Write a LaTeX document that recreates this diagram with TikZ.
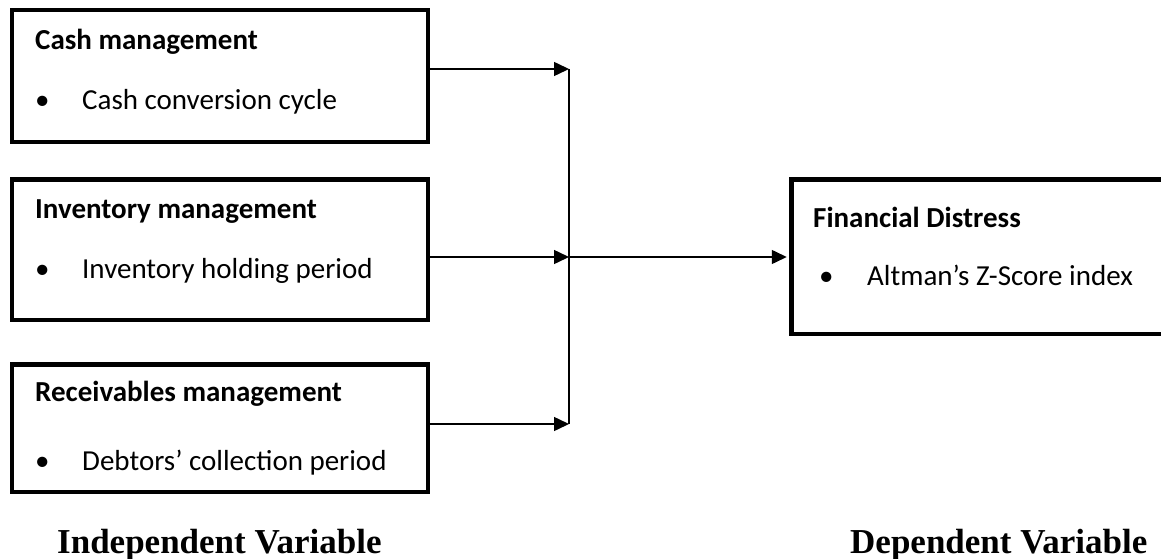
\documentclass[tikz,border=0pt]{standalone}
\usepackage{fontspec}
\setmainfont{Carlito}
\newfontfamily\varfont{Liberation Serif}
\usetikzlibrary{arrows.meta}
\usetikzlibrary{positioning}

\begin{document}
\begin{tikzpicture}[x=1pt,y=-1pt,>={Triangle[length=15pt,width=14pt]},
    var box/.style={rectangle,draw,line width=4.5pt,inner sep=0pt,minimum width=416pt},
    head/.style={anchor=base west,inner sep=0pt,font=\fontsize{29}{34}\selectfont\bfseries},
    item/.style={anchor=base west,inner sep=0pt,font=\fontsize{29}{34}\selectfont},
    var label/.style={anchor=base west,inner sep=0pt,font=\fontsize{35}{40}\selectfont\varfont\bfseries},
    link/.style={line width=1.5pt}]

    \clip (0,0) rectangle (1161,559);

    % independent variables
    \node[var box,minimum height=131.5pt] (cash) at (219.75,76) {};
    \node[var box,minimum height=140.5pt] (inv) at (219.75,249.5) {};
    \node[var box,minimum height=127.5pt] (rec) at (219.75,428) {};
    % dependent variable
    \node[var box,minimum width=389pt,minimum height=154.5pt] (distress) at (985.75,256.5) {};

    \node[head] (cashh) at (35,50) {Cash management};
    \node[item] (cashi) at (35,110) {\makebox[47pt][l]{\textbullet}Cash conversion cycle};
    \node[head] (invh) at (35,218) {Inventory management};
    \node[item] (invi) at (35,278) {\makebox[47pt][l]{\textbullet}Inventory holding period};
    \node[head] (rech) at (35,401) {Receivables management};
    \node[item] (reci) at (35,470) {\makebox[47pt][l]{\textbullet}Debtors’ collection period};
    \node[head] (disth) at (813,227) {Financial Distress};
    \node[item] (disti) at (819,285) {\makebox[48pt][l]{\textbullet}Altman’s Z-Score index};

    \node[var label] (indep) at (57,553) {Independent Variable};
    \node[var label] (dep) at (850,553) {Dependent Variable};

    % junction line
    \coordinate (j1) at (569,69);
    \coordinate (j2) at (569,257);
    \coordinate (j3) at (569,424);

    \draw[link,->] (cash.east |- j1) -- (j1);
    \draw[link,->] (inv.east |- j2) -- (j2);
    \draw[link,->] (rec.east |- j3) -- (j3);
    \draw[link] (j1) -- (j3);
    \draw[link,->,shorten >=2.25pt] (j2) -- (distress.west |- j2);

\end{tikzpicture}
\end{document}
